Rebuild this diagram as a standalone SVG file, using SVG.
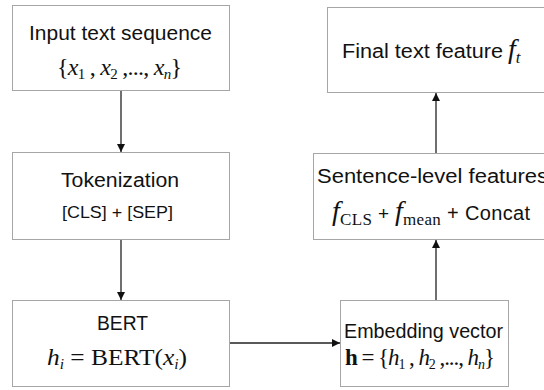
<svg xmlns="http://www.w3.org/2000/svg" width="544" height="390" viewBox="0 0 544 390">
<style>
.box{fill:#ffffff;stroke:#a6a6a6;stroke-width:1}
.sans{font-family:"Liberation Sans","Open Sans",sans-serif;fill:#111}
.serif{font-family:"Liberation Serif","Times New Roman",serif;fill:#111}
.it{font-style:italic}
.conn{stroke:#222;stroke-width:1.3;fill:none;marker-end:url(#arr)}
</style>
<defs>
<marker id="arr" viewBox="0 0 10 10" refX="10" refY="5" markerWidth="8" markerHeight="8" markerUnits="userSpaceOnUse" orient="auto">
<path d="M0,0 L10,5 L0,10 z" fill="#111"/>
</marker>
</defs>
<rect width="544" height="390" fill="#ffffff"/>
<g id="input">
<rect class="box" x="12.5" y="5.5" width="217" height="85"/>
<text class="sans" x="29" y="40" font-size="20" textLength="183" lengthAdjust="spacingAndGlyphs">Input text sequence</text>
<text class="serif" x="57" y="75" font-size="24" textLength="125" lengthAdjust="spacing">{<tspan class="it">x</tspan><tspan font-size="15" dy="4">1</tspan><tspan dy="-4"> , </tspan><tspan class="it">x</tspan><tspan font-size="15" dy="4">2</tspan><tspan dy="-4"> ,..., </tspan><tspan class="it">x</tspan><tspan class="it" font-size="15" dy="4">n</tspan><tspan dy="-4">}</tspan></text>
</g>
<g id="tokenization">
<rect class="box" x="12.5" y="152.5" width="217" height="87"/>
<text class="sans" x="61" y="187" font-size="20" textLength="118" lengthAdjust="spacingAndGlyphs">Tokenization</text>
<text class="sans" x="62" y="218" font-size="16.5" textLength="111" lengthAdjust="spacingAndGlyphs">[CLS] + [SEP]</text>
</g>
<g id="bert">
<rect class="box" x="12.5" y="300.5" width="217" height="86"/>
<text class="sans" x="97" y="330" font-size="20" textLength="51" lengthAdjust="spacingAndGlyphs">BERT</text>
<text class="serif" x="47" y="365" font-size="23" textLength="140" lengthAdjust="spacingAndGlyphs"><tspan class="it">h</tspan><tspan class="it" font-size="14" dy="4">i</tspan><tspan dy="-4"> = BERT(</tspan><tspan class="it">x</tspan><tspan class="it" font-size="14" dy="4">i</tspan><tspan dy="-4">)</tspan></text>
</g>
<g id="embedding">
<rect class="box" x="340.5" y="300.5" width="168" height="86"/>
<text class="sans" x="344" y="338" font-size="20" textLength="159" lengthAdjust="spacingAndGlyphs">Embedding vector</text>
<text class="serif" x="345" y="365" font-size="23" textLength="150" lengthAdjust="spacing"><tspan font-weight="bold">h</tspan><tspan> = {</tspan><tspan class="it">h</tspan><tspan font-size="14" dy="4">1</tspan><tspan dy="-4"> , </tspan><tspan class="it">h</tspan><tspan font-size="14" dy="4">2</tspan><tspan dy="-4"> ,..., </tspan><tspan class="it">h</tspan><tspan class="it" font-size="14" dy="4">n</tspan><tspan dy="-4">}</tspan></text>
</g>
<g id="sentence">
<rect class="box" x="313.5" y="153.5" width="240" height="86"/>
<text class="sans" x="317" y="183" font-size="20" textLength="231" lengthAdjust="spacingAndGlyphs">Sentence-level features</text>
<text x="332" y="220" textLength="198" lengthAdjust="spacing"><tspan class="serif it" font-size="28">f</tspan><tspan class="serif" font-size="17" dy="5">CLS</tspan><tspan class="sans" font-size="19" dy="-5"> + </tspan><tspan class="serif it" font-size="28">f</tspan><tspan class="serif" font-size="17" dy="5">mean</tspan><tspan class="sans" font-size="20" dy="-5"> + Concat</tspan></text>
</g>
<g id="final">
<rect class="box" x="327.5" y="7.5" width="230" height="85"/>
<text class="sans" x="342" y="58" font-size="20" textLength="161" lengthAdjust="spacingAndGlyphs">Final text feature</text>
<text x="508" y="58"><tspan class="serif it" font-size="28">f</tspan><tspan class="serif it" font-size="17" dy="5">t</tspan></text>
</g>
<g id="connectors">
<line class="conn" x1="121" y1="91" x2="121" y2="152"/>
<line class="conn" x1="121" y1="240" x2="121" y2="300"/>
<line class="conn" x1="230" y1="343" x2="340" y2="343"/>
<line class="conn" x1="436" y1="300" x2="436" y2="240"/>
<line class="conn" x1="436" y1="153" x2="436" y2="93"/>
</g>
</svg>
